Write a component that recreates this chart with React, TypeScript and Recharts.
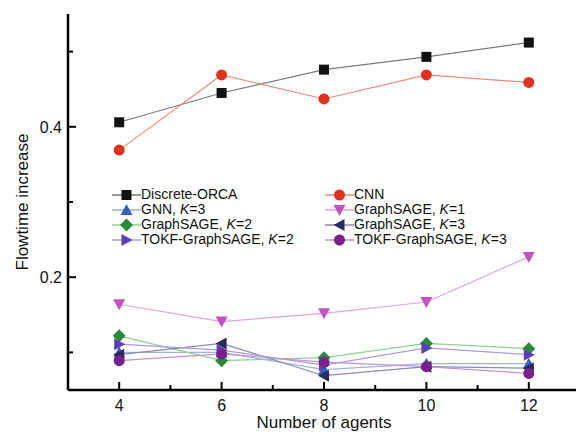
import { LineChart, Line, XAxis, YAxis, Legend } from 'recharts';

const agents = [4, 6, 8, 10, 12];
const discreteOrca = [0.406, 0.445, 0.476, 0.493, 0.512];
const cnn = [0.369, 0.469, 0.437, 0.469, 0.459];
const gnnK3 = [0.1, 0.1, 0.077, 0.085, 0.085];
const graphSageK1 = [0.164, 0.141, 0.152, 0.167, 0.227];
const graphSageK2 = [0.122, 0.089, 0.093, 0.112, 0.105];
const graphSageK3 = [0.097, 0.112, 0.069, 0.081, 0.079];
const tokfK2 = [0.111, 0.103, 0.083, 0.106, 0.097];
const tokfK3 = [0.089, 0.098, 0.087, 0.081, 0.072];

const xTicks = [4, 5, 6, 7, 8, 9, 10, 11, 12];
const yTicks = [0.1, 0.2, 0.3, 0.4, 0.5];
const xLabels = [4, 6, 8, 10, 12];
const yLabels = [0.2, 0.4];

const FONT = '"Liberation Sans", Arial, sans-serif';

type Shape = 'square' | 'circle' | 'up' | 'down' | 'left' | 'right' | 'diamond';

const series: { key: string; name: string; k?: string; values: number[]; shape: Shape; color: string; line: string }[] = [
  { key: 'orca', name: 'Discrete-ORCA', values: discreteOrca, shape: 'square', color: '#111111', line: '#7a7a7a' },
  { key: 'cnn', name: 'CNN', values: cnn, shape: 'circle', color: '#e0321e', line: '#f08a7c' },
  { key: 'gnn3', name: 'GNN, ', k: '3', values: gnnK3, shape: 'up', color: '#3560c0', line: '#9cb2e2' },
  { key: 'gs1', name: 'GraphSAGE, ', k: '1', values: graphSageK1, shape: 'down', color: '#c252c2', line: '#dca4dc' },
  { key: 'gs2', name: 'GraphSAGE, ', k: '2', values: graphSageK2, shape: 'diamond', color: '#2a8a3a', line: '#8fcf92' },
  { key: 'gs3', name: 'GraphSAGE, ', k: '3', values: graphSageK3, shape: 'left', color: '#2a2a5c', line: '#8a8aaa' },
  { key: 'tokf2', name: 'TOKF-GraphSAGE, ', k: '2', values: tokfK2, shape: 'right', color: '#5a40b8', line: '#aa9ada' },
  { key: 'tokf3', name: 'TOKF-GraphSAGE, ', k: '3', values: tokfK3, shape: 'circle', color: '#7a1f8f', line: '#c492d2' },
];

const data = agents.map((a, i) => {
  const row: Record<string, number> = { agents: a };
  series.forEach(s => { row[s.key] = s.values[i]; });
  return row;
});

function Marker({ shape, cx, cy, fill }: { shape: Shape; cx: number; cy: number; fill: string }) {
  const s = 6;
  switch (shape) {
    case 'square':
      return <rect x={cx - 5} y={cy - 5} width={10} height={10} fill={fill} />;
    case 'circle':
      return <circle cx={cx} cy={cy} r={5.5} fill={fill} />;
    case 'up':
      return <polygon points={`${cx},${cy - s} ${cx + s},${cy + 5} ${cx - s},${cy + 5}`} fill={fill} />;
    case 'down':
      return <polygon points={`${cx},${cy + s} ${cx + s},${cy - 5} ${cx - s},${cy - 5}`} fill={fill} />;
    case 'left':
      return <polygon points={`${cx - s},${cy} ${cx + 5},${cy - s} ${cx + 5},${cy + s}`} fill={fill} />;
    case 'right':
      return <polygon points={`${cx + s},${cy} ${cx - 5},${cy - s} ${cx - 5},${cy + s}`} fill={fill} />;
    default:
      return <polygon points={`${cx},${cy - 6.5} ${cx + 6.5},${cy} ${cx},${cy + 6.5} ${cx - 6.5},${cy}`} fill={fill} />;
  }
}

// ticks point into the plot; long ones get labels
function XTick(props: any) {
  const { x, y, payload, top } = props;
  const major = xLabels.includes(payload.value);
  const len = major ? 8 : 5;
  return (
    <g>
      <line x1={x} x2={x} y1={y} y2={top ? y + len : y - len} stroke="#000" strokeWidth={2} />
      {!top && major && (
        <text x={x} y={y + 21} textAnchor="middle" fontSize={16} fontFamily={FONT} fill="#111">{payload.value}</text>
      )}
    </g>
  );
}

function YTick(props: any) {
  const { x, y, payload, right } = props;
  const major = yLabels.some(v => Math.abs(v - payload.value) < 1e-6);
  const len = major ? 8 : 5;
  return (
    <g>
      <line x1={x} x2={right ? x - len : x + len} y1={y} y2={y} stroke="#000" strokeWidth={2} />
      {!right && major && (
        <text x={x - 6} y={y + 6} textAnchor="end" fontSize={16} fontFamily={FONT} fill="#111">{payload.value.toFixed(1)}</text>
      )}
    </g>
  );
}

function LegendContent() {
  return (
    <div style={{ display: 'grid', gridTemplateColumns: '213px 220px', fontFamily: FONT, fontSize: 14, lineHeight: '15px', color: '#111', textAlign: 'left' }}>
      {series.map(s => (
        <div key={s.key} style={{ display: 'flex', alignItems: 'center', whiteSpace: 'nowrap', height: 15 }}>
          <svg width={29} height={14} style={{ display: 'block', flex: 'none' }}>
            <line x1={0} x2={29} y1={7} y2={7} stroke={s.line} strokeWidth={1.5} />
            <Marker shape={s.shape} cx={14.5} cy={7} fill={s.color} />
          </svg>
          <span>
            {s.name}
            {s.k && (<><i>K</i>={s.k}</>)}
          </span>
        </div>
      ))}
    </div>
  );
}

export default function App() {
  return (
    <div style={{ position: 'absolute', left: 0, top: 0, width: 576, height: 432, overflow: 'hidden', background: '#fff' }}>
      <LineChart width={590} height={432} data={data} margin={{ top: 14, right: 10, left: 8, bottom: 12 }}>
        <XAxis
          dataKey="agents"
          type="number"
          domain={[3, 13]}
          ticks={xTicks}
          interval={0}
          allowDataOverflow
          tickLine={false}
          tickSize={0}
          tickMargin={0}
          tick={<XTick />}
          axisLine={{ stroke: '#000', strokeWidth: 2.5 }}
          height={30}
          label={{ value: 'Number of agents', position: 'insideBottom', offset: -8, fontSize: 17, fontFamily: FONT, fill: '#111' }}
        />
        <XAxis
          xAxisId="top"
          orientation="top"
          type="number"
          domain={[3, 13]}
          ticks={xTicks}
          interval={0}
          allowDataOverflow
          tickLine={false}
          tickSize={0}
          tickMargin={0}
          tick={<XTick top />}
          axisLine={{ stroke: '#000', strokeWidth: 2.5 }}
          height={0}
        />
        <YAxis
          type="number"
          domain={[0.05, 0.55]}
          ticks={yTicks}
          interval={0}
          allowDataOverflow
          tickLine={false}
          tickSize={0}
          tickMargin={0}
          tick={<YTick />}
          axisLine={{ stroke: '#000', strokeWidth: 2.5 }}
          width={60}
          label={{ value: 'Flowtime increase', angle: -90, position: 'insideLeft', offset: 14, fontSize: 17, fontFamily: FONT, fill: '#111', style: { textAnchor: 'middle' } }}
        />
        <YAxis
          yAxisId="right"
          orientation="right"
          type="number"
          domain={[0.05, 0.55]}
          ticks={yTicks}
          interval={0}
          allowDataOverflow
          tickLine={false}
          tickSize={0}
          tickMargin={0}
          tick={<YTick right />}
          axisLine={{ stroke: '#000', strokeWidth: 2.5 }}
          width={0}
        />
        <Legend
          layout="horizontal"
          verticalAlign="middle"
          align="center"
          content={<LegendContent />}
          wrapperStyle={{ position: 'absolute', left: 112, top: 187, width: 460 }}
        />
        {series.map(s => (
          <Line
            key={s.key}
            dataKey={s.key}
            name={s.name}
            type="linear"
            stroke={s.line}
            strokeWidth={1.2}
            isAnimationActive={false}
            dot={(p: any) => <Marker key={`${s.key}-${p.index}`} shape={s.shape} cx={p.cx} cy={p.cy} fill={s.color} />}
            activeDot={false}
          />
        ))}
      </LineChart>
    </div>
  );
}
